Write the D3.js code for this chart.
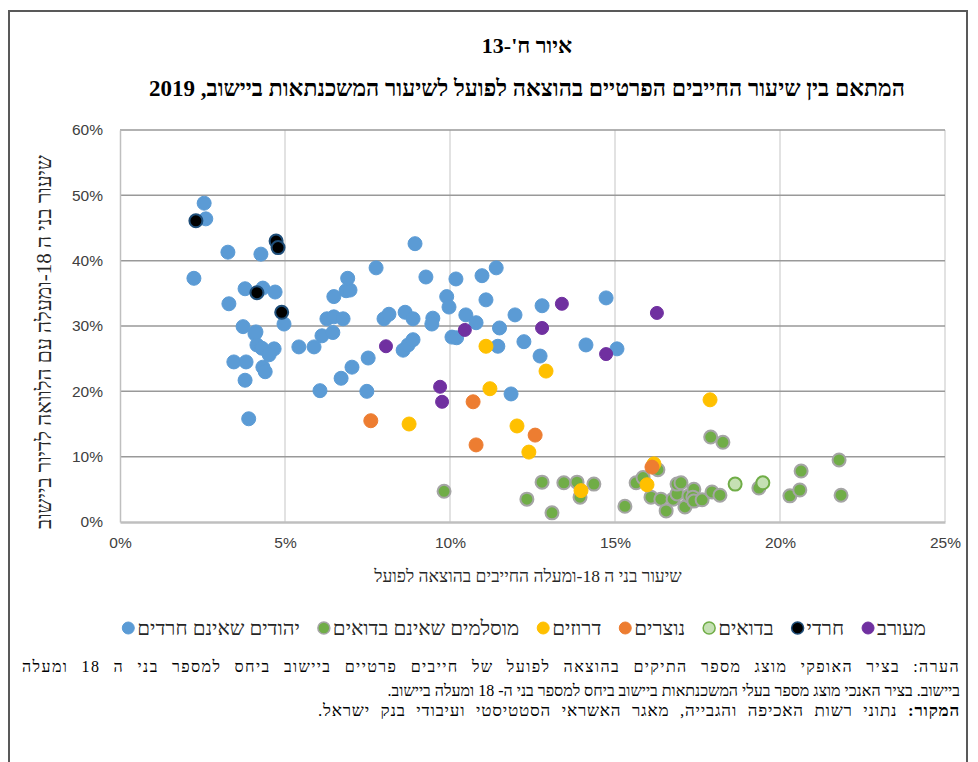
<!DOCTYPE html>
<html><head><meta charset="utf-8">
<script src="https://cdn.jsdelivr.net/npm/d3@7"></script>
<style>
body{margin:0;background:#fff;}
svg{display:block;}
</style></head>
<body>
<svg id="c" width="978" height="762"></svg>
<script>
// ---- data (x = share of 18+ with enforcement files, y = share of 18+ with mortgage), in %
const xTicks = [0,5,10,15,20,25];
const yTicks = [0,10,20,30,40,50,60];

const blueX = [2.55,2.6,2.24,3.27,4.27,3.3,3.79,4.33,4.7,3.73,4.12,4.09,4.15,4.3,4.67,4.52,4.97,5.42,5.88,3.45,3.82,4.33,4.4,3.79,3.9,6.06,6.12,6.45,6.7,6.27,6.48,6.76,6.48,6.85,6.97,6.9,7.03,7.48,7.52,7.76,8.0,8.15,8.64,8.88,8.58,8.73,8.88,8.94,9.27,9.48,9.45,9.9,9.97,10.06,10.2,10.18,10.48,10.79,10.97,11.09,11.4,11.45,11.5,11.85,11.97,12.24,12.73,12.79,14.12,14.73,15.06];
const blueY = [48.8,46.4,37.3,41.3,41.0,33.4,35.7,35.8,35.2,29.9,29.1,28.8,27.1,26.6,26.5,25.6,30.3,26.8,26.8,24.5,24.5,23.7,23.0,21.7,15.8,20.1,28.5,29.0,22.0,31.1,31.4,31.1,34.5,35.4,35.5,37.3,23.7,20.0,25.1,38.9,31.1,31.8,32.1,31.1,26.3,27.1,27.9,42.6,37.5,31.2,30.3,34.5,32.9,28.3,28.2,37.2,31.7,30.5,37.7,34.0,38.9,26.9,29.7,19.6,31.7,27.6,25.4,33.1,27.1,34.3,26.5];

const greenX = [9.82,12.33,12.79,13.09,13.45,13.85,13.94,14.36,15.3,15.64,15.85,16.3,16.09,16.39,16.55,16.76,16.88,16.88,17.0,17.12,17.24,17.39,17.36,17.39,17.64,17.94,18.18,17.9,18.27,19.36,20.3,20.6,20.64,21.79,21.85];
const greenY = [4.7,3.5,6.1,1.4,6.0,6.1,3.8,5.8,2.4,6.0,6.8,8.0,3.8,3.5,1.7,3.5,4.3,5.8,6.0,2.3,4.0,5.0,3.8,3.2,3.4,4.6,4.1,13.0,12.2,5.2,4.0,4.9,7.8,9.5,4.1];

const lightGreenX = [18.64,19.48];
const lightGreenY = [5.8,6.0];

const yellowX = [8.76,11.09,11.21,12.03,12.39,12.91,13.97,15.97,16.18,17.88];
const yellowY = [15.0,26.9,20.4,14.7,10.7,23.1,4.8,5.7,8.9,18.7];

const orangeX = [7.6,10.7,10.79,12.58,16.12];
const orangeY = [15.5,18.4,11.8,13.3,8.4];

const blackX = [2.3,4.73,4.79,4.15,4.9];
const blackY = [46.1,43.0,42.0,35.1,32.1];

const purpleX = [8.06,9.7,9.76,10.45,12.79,13.39,14.73,16.27];
const purpleY = [26.9,20.7,18.4,29.4,29.7,33.4,25.7,32.0];

const legendNames = ["מעורב","חרדי","בדואים","נוצרים","דרוזים","מוסלמים שאינם בדואים","יהודים שאינם חרדים"];

// ---- series styles
const series = [
  {name:"יהודים שאינם חרדים", xs:blueX, ys:blueY, fill:"#5B9BD5", stroke:"#5B9BD5", r:7, sw:1},
  {name:"מוסלמים שאינם בדואים", xs:greenX, ys:greenY, fill:"#70AD47", stroke:"#A5A5A5", r:6.5, sw:2},
  {name:"בדואים", xs:lightGreenX, ys:lightGreenY, fill:"#C5E0B4", stroke:"#70AD47", r:6.5, sw:2},
  {name:"דרוזים", xs:yellowX, ys:yellowY, fill:"#FFC000", stroke:"#FFC000", r:7, sw:1},
  {name:"נוצרים", xs:orangeX, ys:orangeY, fill:"#ED7D31", stroke:"#ED7D31", r:7, sw:1},
  {name:"חרדי", xs:blackX, ys:blackY, fill:"#000000", stroke:"#1F4E79", r:6.5, sw:2},
  {name:"מעורב", xs:purpleX, ys:purpleY, fill:"#7030A0", stroke:"#7030A0", r:6.5, sw:1}
];

const svg = d3.select("#c");
// outer frame
svg.append("rect").attr("x",9).attr("y",11).attr("width",958).attr("height",770)
  .attr("fill","none").attr("stroke","#595959").attr("stroke-width",2);

const heb = "'Liberation Serif','DejaVu Serif',serif";
const sans = "'Liberation Sans','DejaVu Sans',sans-serif";

svg.append("text").attr("x",527).attr("y",53).attr("text-anchor","middle")
  .attr("direction","rtl").style("font-family",heb).style("font-weight","bold").style("font-size","22px")
  .attr("fill","#000").text("איור ח'-13");
svg.append("text").attr("x",527).attr("y",96).attr("text-anchor","middle")
  .attr("direction","rtl").style("font-family",heb).style("font-weight","bold").style("font-size","23px")
  .attr("fill","#000").text("המתאם בין שיעור החייבים הפרטיים בהוצאה לפועל לשיעור המשכנתאות ביישוב, 2019");

const x = d3.scaleLinear().domain([0,25]).range([120,945]);
const y = d3.scaleLinear().domain([0,60]).range([522,130]);

// vertical gridlines
svg.append("g").selectAll("line").data(xTicks.filter(d=>d>0)).join("line")
  .attr("x1",d=>x(d)).attr("x2",d=>x(d)).attr("y1",y(60)).attr("y2",y(0))
  .attr("stroke","#d9d9d9").attr("stroke-width",1.5);
// horizontal gridlines
svg.append("g").selectAll("line").data(yTicks.filter(d=>d>0)).join("line")
  .attr("x1",x(0)).attr("x2",x(25)).attr("y1",d=>y(d)).attr("y2",d=>y(d))
  .attr("stroke","#999999").attr("stroke-width",1.5);

// axes
const xAxis = svg.append("g").attr("transform",`translate(0,${y(0)})`)
  .call(d3.axisBottom(x).tickValues(xTicks).tickSize(0).tickPadding(15).tickFormat(d=>d+"%"));
const yAxis = svg.append("g").attr("transform",`translate(${x(0)},0)`)
  .call(d3.axisLeft(y).tickValues(yTicks).tickSize(0).tickPadding(17).tickFormat(d=>d+"%"));
xAxis.select(".domain").attr("stroke","#bfbfbf").attr("stroke-width",2.5);
yAxis.select(".domain").attr("stroke","#bfbfbf").attr("stroke-width",1.5);
[xAxis,yAxis].forEach(a=>a.selectAll("text").style("font-family",sans).style("font-size","15.5px").attr("fill","#404040"));

// axis titles
svg.append("text").attr("x",528).attr("y",582).attr("text-anchor","middle").attr("direction","rtl")
  .style("font-family",heb).style("font-size","17.5px").attr("fill","#262626")
  .text("שיעור בני ה 18-ומעלה החייבים בהוצאה לפועל");
svg.append("text").attr("transform","translate(51,342) rotate(-90)").attr("text-anchor","middle").attr("direction","rtl")
  .style("font-family",heb).style("font-size","21px").attr("fill","#262626")
  .text("שיעור בני ה 18-ומעלה עם הלוואה לדיור ביישוב");

// points
const plot = svg.append("g");
series.forEach(s=>{
  const pts = s.xs.map((v,i)=>({x:v,y:s.ys[i]}));
  plot.append("g").selectAll("circle").data(pts).join("circle")
    .attr("cx",d=>x(d.x)).attr("cy",d=>y(d.y)).attr("r",s.r)
    .attr("fill",s.fill).attr("stroke",s.stroke).attr("stroke-width",s.sw);
});

// legend (RTL order from right)
const legG = svg.append("g");
let cursor = 926;
legendNames.forEach(n=>{
  const s = series.find(q=>q.name===n);
  const t = legG.append("text").attr("x",cursor).attr("y",635).attr("text-anchor","start").attr("direction","rtl")
    .style("font-family",heb).style("font-size","20.5px").attr("fill","#262626").text(n);
  const w = t.node().getComputedTextLength();
  const cx = cursor - w - 9;
  legG.append("circle").attr("cx",cx).attr("cy",628).attr("r",6)
    .attr("fill",s.fill).attr("stroke",s.stroke).attr("stroke-width",s.sw===2?1.5:1);
  cursor = cx - 24;
});

// notes
const noteG = svg.append("g").style("font-family",heb).style("font-size","16px").attr("fill","#000");
function fitLine(t, target){
  const w = t.node().getComputedTextLength();
  const txt = t.text();
  const n = txt.length;
  const spaces = (txt.match(/ /g)||[]).length;
  if (w < target){
    const extra = target - w;
    const ls = extra*0.5/n;
    const ws = spaces>0 ? (extra - ls*n)/spaces : 0;
    t.style("letter-spacing", ls+"px").style("word-spacing", ws+"px");
  }
}
const l1 = noteG.append("text").attr("x",960).attr("y",672).attr("text-anchor","start").attr("direction","rtl")
  .text("הערה: בציר האופקי מוצג מספר התיקים בהוצאה לפועל של חייבים פרטיים ביישוב ביחס למספר בני ה 18 ומעלה");
fitLine(l1, 938);
const l2 = noteG.append("text").attr("x",960).attr("y",696).attr("text-anchor","start").attr("direction","rtl")
  .text("ביישוב.  בציר האנכי מוצג מספר בעלי המשכנתאות ביישוב ביחס למספר בני ה- 18 ומעלה ביישוב.");
const src = noteG.append("text").attr("x",960).attr("y",716).attr("text-anchor","start").attr("direction","rtl")
  .style("font-size","17px");
src.append("tspan").style("font-weight","bold").text("המקור:");
src.append("tspan").text(" נתוני רשות האכיפה והגבייה, מאגר האשראי הסטטיסטי ועיבודי בנק ישראל.");
fitLine(src, 642);
</script>
</body></html>
